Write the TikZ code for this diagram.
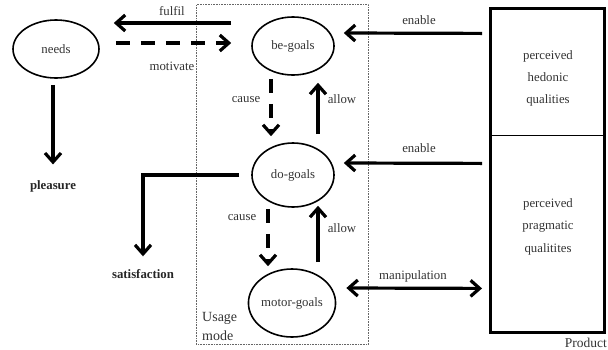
\documentclass[tikz,border=0pt]{standalone}
\usepackage{fontspec}
\setmainfont{Liberation Serif}
\usetikzlibrary{arrows.meta,shapes.geometric}
\begin{document}
\begin{tikzpicture}[x=1pt,y=-1pt,
  txt/.style={font=\fontsize{12.8}{15}\selectfont, text=black!80},
  goal/.style={draw, ellipse, line width=1.6pt, minimum width=82pt, minimum height=60pt, inner sep=0pt, txt},
  arr/.style={line width=3.2pt, -{Straight Barb[length=9pt,width=16pt]}},
  darr/.style={arr, dash pattern=on 14pt off 11pt},
  lbl/.style={txt, inner sep=0pt},
  res/.style={font=\bfseries\fontsize{12.8}{15}\selectfont, text=black!85, inner sep=0pt, anchor=base},
  pbox/.style={draw, line width=0.8pt, minimum width=114pt, inner sep=0pt, anchor=north west},
]
\useasboundingbox (0,0) rectangle (608,349);

% usage mode frame
\node[draw=black!60, densely dotted, line width=0.6pt, minimum width=172pt, minimum height=340pt, anchor=north west, inner sep=0pt] (usage) at (196,4) {};
\node[txt, font=\fontsize{14}{19}\selectfont, align=left, anchor=north west, inner sep=0pt] (umode) at (202,311.7) {Usage\\mode};

% goal ellipses
\node[goal, minimum width=86pt, minimum height=58pt] (needs) at (56,49) {needs};
\node[goal, minimum height=58pt] (be) at (293,46) {be-goals};
\node[goal, minimum height=64pt] (do) at (293,175) {do-goals};
\node[goal, minimum height=68pt] (motor) at (292,303) {motor-goals};

% results
\node[res] (pleas) at (53,189) {pleasure};
\node[res] (satis) at (143,278) {satisfaction};

% product
\node[pbox, minimum height=127pt] (hed) at (490,8) {};
\node[pbox, minimum height=197pt] (prag) at (490,135) {};
\draw[line width=3pt] (hed.north west) rectangle (prag.south east);
\node[txt, align=center, font=\fontsize{12.8}{22}\selectfont] (hedtxt) at (548,78) {perceived\\hedonic\\qualities};
\node[txt, align=center, font=\fontsize{12.8}{22.5}\selectfont] (pragtxt) at (548,226.6) {perceived\\pragmatic\\qualitites};
\node[txt, font=\fontsize{13.5}{16}\selectfont, anchor=base east, inner sep=0pt] (prodlbl) at (607,347) {Product};

% connectors
\draw[arr] ([shift={(-20,-23)}]be.west) -- ([shift={(14,-26)}]needs.east);
\draw[darr] ([shift={(16,-6)}]needs.east) -- ([shift={(-20,-3)}]be.west);
\draw[arr] ([shift={(-3,6)}]needs.south) -- ([shift={(0,-15.5)}]pleas.north);
\draw[darr] ([shift={(-22,3)}]be.south) -- ([shift={(-22,-6)}]do.north);
\draw[arr] ([shift={(25,-8)}]do.north) -- ([shift={(25,7)}]be.south);
\draw[darr] ([shift={(-25,1)}]do.south) -- ([shift={(-24,-2)}]motor.north);
\draw[arr] ([shift={(26,-6)}]motor.north) -- ([shift={(25,-2)}]do.south);
\draw[arr] ([shift={(-12,0)}]do.west) -| ([shift={(0,-12.5)}]satis.north);
\draw[arr] ([shift={(-8,-38.5)}]hed.west) -- ([shift={(9,-13)}]be.east);
\draw[arr] ([shift={(-8,-70.5)}]prag.west) -- ([shift={(9,-12)}]do.east);
\draw[line width=3.2pt, {Straight Barb[length=9pt,width=16pt]}-{Straight Barb[length=9pt,width=16pt]}] ([shift={(10,-15)}]motor.east) -- ([shift={(-8,54.5)}]prag.west);

% labels
\node[lbl] (lfulfil) at (172,11) {fulfil};
\node[lbl] (lmotiv) at (172,66) {motivate};
\node[lbl] (len1) at (419,20) {enable};
\node[lbl] (len2) at (419,148) {enable};
\node[lbl] (lcause1) at (246,100) {cause};
\node[lbl] (lallow1) at (342,99) {allow};
\node[lbl] (lcause2) at (242,218) {cause};
\node[lbl] (lallow2) at (342,228) {allow};
\node[lbl] (lmanip) at (413,276) {manipulation};
\end{tikzpicture}
\end{document}
